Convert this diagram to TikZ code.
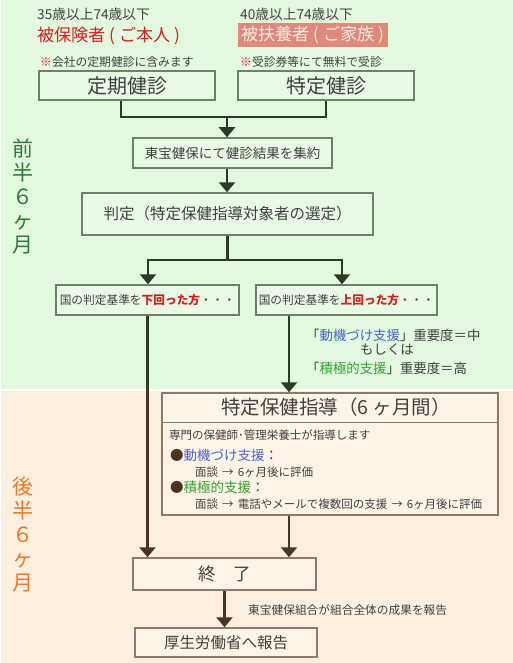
\documentclass[tikz,border=0pt]{standalone}
\usepackage{fontspec}
\setmainfont{Noto Sans CJK JP}
\usetikzlibrary{arrows.meta,calc}
\definecolor{bgGreen}{HTML}{E2F8DF}
\definecolor{bgOrange}{HTML}{FDEFE0}
\definecolor{boxGreen}{HTML}{E8FAE5}
\definecolor{edgeGreen}{HTML}{6E7F6A}
\definecolor{darkGreen}{HTML}{2E3B22}
\definecolor{boxOrange}{HTML}{FEF3E7}
\definecolor{edgeOrange}{HTML}{8C7B6A}
\definecolor{darkBrown}{HTML}{4A3420}
\definecolor{txtGray}{HTML}{414141}
\definecolor{redText}{HTML}{D42020}
\definecolor{salmon}{HTML}{E0897A}
\definecolor{salmonText}{HTML}{FAEBE6}
\definecolor{blueText}{HTML}{4466CC}
\definecolor{greenText}{HTML}{33A033}
\definecolor{sideGreen}{HTML}{2E7A3A}
\definecolor{sideOrange}{HTML}{E87A2A}
\newcommand{\fs}[1]{\fontsize{#1}{#1}\selectfont}
\newcommand{\toarrow}{\hspace{0.35em}→\hspace{0.35em}}

\begin{document}
\begin{tikzpicture}[x=1pt,y=-1pt,
    every node/.style={text=txtGray, inner sep=0pt},
    greenbox/.style={draw=edgeGreen, fill=boxGreen, line width=1.5pt},
    orangebox/.style={draw=edgeOrange, fill=boxOrange, line width=1.5pt},
    greenline/.style={draw=darkGreen, line width=2.4pt},
    greenarrow/.style={greenline, -{Triangle[width=16pt,length=10pt]}},
    brownline/.style={draw=darkBrown, line width=2.4pt},
    brownarrow/.style={brownline, -{Triangle[width=16pt,length=10pt]}}]

    \fill[white] (0,0) rectangle (513,663);
    \fill[bgGreen] (1,0) rectangle (513,389);
    \fill[bgOrange] (1,391) rectangle (513,663);
    \coordinate (border) at (0,390);

    \node[text=sideGreen, font=\fontsize{21}{24}\selectfont, align=center] (zenhan) at (23,196) {前\\半\\６\\ヶ\\月};
    \node[text=sideOrange, font=\fontsize{21}{24}\selectfont, align=center] (kouhan) at (23,535) {後\\半\\６\\ヶ\\月};

    \node[anchor=west, font=\fs{13.7}] (ageA) at (37,14.5) {35歳以上74歳以下};
    \node[anchor=west, font=\fs{17.2}, text=redText] (honnin) at (37,35.5) {被保険者 ( ご本人 )};
    \node[anchor=west, font=\fs{13.7}] (ageB) at (240,14.5) {40歳以上74歳以下};
    \node[anchor=west, font=\fs{17.2}, text=salmonText, fill=salmon, minimum height=24pt, inner xsep=3pt] (kazoku) at (238,35) {被扶養者 ( ご家族 )};
    \node[anchor=west, font=\fs{11.8}] (noteA) at (40,62.5) {\textcolor{redText}{※}会社の定期健診に含みます};
    \node[anchor=west, font=\fs{11.8}] (noteB) at (240,62.5) {\textcolor{redText}{※}受診券等にて無料で受診};

    \node[greenbox, minimum width=176pt, minimum height=29pt, font=\fs{20}] (teiki) at (127,85.5) {定期健診};
    \node[greenbox, minimum width=176pt, minimum height=29pt, font=\fs{20}] (tokutei) at (326,85.5) {特定健診};
    \node[greenbox, minimum width=199pt, minimum height=30pt, font=\fs{13.5}] (shuyaku) at (232.5,153) {東宝健保にて健診結果を集約};
    \node[greenbox, minimum width=291pt, minimum height=42pt, font=\fs{15.5}] (hantei) at (227.5,214) {判定（特定保健指導対象者の選定）};
    \node[greenbox, minimum width=183pt, minimum height=30pt, font=\fs{11.7}] (shita) at (147.5,300) {国の判定基準を\textcolor{redText}{\bfseries 下回った方}・・・};
    \node[greenbox, minimum width=181pt, minimum height=30pt, font=\fs{11.7}] (ue) at (346.5,300) {国の判定基準を\textcolor{redText}{\bfseries 上回った方}・・・};

    \coordinate (merge) at (227,117);
    \coordinate (splitL) at (148,260);
    \coordinate (splitR) at (342,260);
    \coordinate (rightX) at (289,0);

    \draw[greenline] ([xshift=-6pt]teiki.south) |- (tokutei.south |- merge) -- (tokutei.south);
    \draw[greenarrow] (merge) -- (merge |- shuyaku.north);
    \draw[greenarrow] (merge |- shuyaku.south) -- (merge |- hantei.north);
    \draw[greenline] (hantei.south) -- (hantei.south |- splitL);
    \draw[greenarrow] (splitR) -- (splitL) -- (splitL |- shita.north);
    \draw[greenarrow] (splitL) -- (splitR) -- (splitR |- ue.north);

    \node[anchor=west, font=\fs{13.4}] (doukiLv) at (306,335) {「\textcolor{blueText}{動機づけ支援}」重要度＝中};
    \node[font=\fs{13.4}] (moshiku) at (387,350) {もしくは};
    \node[anchor=west, font=\fs{13.4}] (sekkyokuLv) at (306,368) {「\textcolor{greenText}{積極的支援}」重要度＝高};

    \node[orangebox, minimum width=336pt, minimum height=122pt] (shido) at (330,454) {};
    \draw[edgeOrange, line width=1.5pt] ($(shido.north west)+(0,30)$) -- ($(shido.north east)+(0,30)$);
    \node[font=\fs{19.5}] (shidoTitle) at ($(shido.north)+(6,15)$) {特定保健指導（6 ヶ月間）};
    \node[anchor=west, font=\fs{11.5}] (senmon) at (169,435) {専門の保健師･管理栄養士が指導します};
    \node[anchor=west, font=\fs{13.5}] (douki) at (170,455) {\textcolor{darkBrown}{●}\textcolor{blueText}{動機づけ支援}：};
    \node[anchor=west, font=\fs{11.5}] (doukiFlow) at (195,472) {面談\toarrow 6ヶ月後に評価};
    \node[anchor=west, font=\fs{13.5}] (sekkyoku) at (170,487) {\textcolor{darkBrown}{●}\textcolor{greenText}{積極的支援}：};
    \node[anchor=west, font=\fs{11.5}] (sekkyokuFlow) at (195,504) {面談\toarrow 電話やメールで複数回の支援\toarrow 6ヶ月後に評価};

    \node[orangebox, minimum width=183pt, minimum height=32pt, font=\fs{17.5}] (shuryo) at (224.5,574) {終　了};
    \node[orangebox, minimum width=182pt, minimum height=29pt, font=\fs{15.5}] (houkoku) at (226,642.5) {厚生労働省へ報告};
    \node[anchor=west, font=\fs{11.7}] (seika) at (248,610) {東宝健保組合が組合全体の成果を報告};

    \draw[greenarrow] (rightX |- ue.south) -- (rightX |- shido.north);
    \draw[greenline] (shita.south) -- (shita.south |- border);
    \draw[brownarrow] (shita.south |- border) -- (shita.south |- shuryo.north);
    \draw[brownarrow] (rightX |- shido.south) -- (rightX |- shuryo.north);
    \draw[brownarrow] (shuryo.south) -- (shuryo.south |- houkoku.north);
\end{tikzpicture}
\end{document}
